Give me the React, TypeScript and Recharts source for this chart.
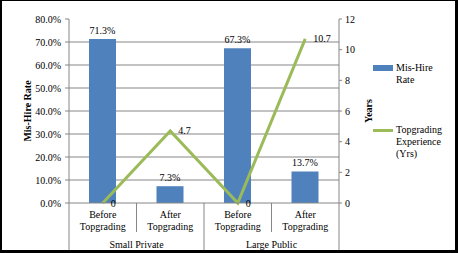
import React from 'react';
import {ComposedChart, Bar, Line, XAxis, YAxis, CartesianGrid, Legend, LabelList, Label} from 'recharts';

const categories = ['Before Topgrading', 'After Topgrading', 'Before Topgrading', 'After Topgrading'];
const groups = ['Small Private', 'Small Private', 'Large Public', 'Large Public'];
const misHireRate = [71.3, 7.3, 67.3, 13.7];
const topgradingYears = [0, 4.7, 0, 10.7];
const rateTicks = [0, 10, 20, 30, 40, 50, 60, 70, 80];
const rateGrid = [10, 20, 30, 40, 50, 60, 70];
const yearTicks = [0, 2, 4, 6, 8, 10, 12];

const data = categories.map((category, i) => ({
    category,
    group: groups[i],
    rate: misHireRate[i],
    years: topgradingYears[i],
}));

const W = 458;
const H = 253;
const TOP = 19;
const LEFT_AXIS_W = 69;
const RIGHT_AXIS_W = 119;
const BOTTOM_AXIS_H = 50;
const BAND = (W - LEFT_AXIS_W - RIGHT_AXIS_W) / categories.length;

const FONT = '"Liberation Serif", "Times New Roman", serif';
const GRID = '#868686';
const BLUE = '#4F81BD';
const GREEN = '#9BBB59';

// two-line category label plus the group row underneath, with the separator lines
function CategoryTick(props: any) {
    const {x, y, payload} = props;
    const i: number = props.index ?? payload.index;
    const left = x - BAND / 2;
    const groupStart = i === 0 || groups[i] !== groups[i - 1];
    const groupSize = groups.filter((g) => g === groups[i]).length;
    const last = i === categories.length - 1;
    const [line1, line2] = categories[i].split(' ');
    return (
        <g>
            <line x1={left} x2={left} y1={y} y2={y + (groupStart ? 47 : 29)} stroke={GRID}/>
            {last && <line x1={left + BAND} x2={left + BAND} y1={y} y2={y + 47} stroke={GRID}/>}
            <text x={x} y={y + 15} textAnchor="middle" fontSize={10} fill="#000">{line1}</text>
            <text x={x} y={y + 27} textAnchor="middle" fontSize={10} fill="#000">{line2}</text>
            {groupStart && (
                <text x={left + (BAND * groupSize) / 2} y={y + 45} textAnchor="middle" fontSize={10} fill="#000">
                    {groups[i]}
                </text>
            )}
        </g>
    );
}

function AxisTitle({viewBox, value, dx}: any) {
    const x = viewBox.x + dx;
    const y = viewBox.y + viewBox.height / 2;
    return (
        <text x={x} y={y} transform={`rotate(-90 ${x} ${y})`} textAnchor="middle"
              fontSize={10} fontWeight="bold" fill="#000">
            {value}
        </text>
    );
}

function LegendBox({payload}: any) {
    return (
        <div style={{display: 'flex', flexDirection: 'column', gap: 38, fontFamily: FONT, fontSize: 10}}>
            {(payload || []).map((entry: any) => (
                <div key={entry.value} style={{display: 'flex', alignItems: 'flex-start', lineHeight: '12px'}}>
                    <div style={{width: 20, height: 12, marginRight: 3, position: 'relative', flex: 'none'}}>
                        {entry.type === 'line' ? (
                            <div style={{position: 'absolute', left: 0, top: 5, width: 20, height: 3, background: entry.color}}/>
                        ) : (
                            <div style={{position: 'absolute', left: 0, top: 3, width: 20, height: 6, background: entry.color}}/>
                        )}
                    </div>
                    <div style={{width: 52, color: '#000'}}>{entry.value}</div>
                </div>
            ))}
        </div>
    );
}

export default function App() {
    return (
        <div style={{position: 'absolute', left: 0, top: 0, width: W, height: H, background: '#fff', fontFamily: FONT}}>
            <ComposedChart width={W} height={H} data={data}
                           margin={{top: TOP, right: 0, bottom: 0, left: 0}}
                           style={{fontFamily: FONT}}>
                <CartesianGrid vertical={false} stroke={GRID} horizontalValues={rateGrid}/>
                <XAxis dataKey="category" interval={0} height={BOTTOM_AXIS_H}
                       axisLine={{stroke: GRID}} tickLine={false} tickSize={0} tickMargin={0}
                       tick={<CategoryTick/>}/>
                <YAxis domain={[0, 80]} ticks={rateTicks} width={LEFT_AXIS_W}
                       tickFormatter={(v: number) => `${v.toFixed(1)}%`}
                       tick={{fill: '#000', fontSize: 10}} tickSize={4} tickMargin={4}
                       axisLine={{stroke: GRID}} tickLine={{stroke: GRID}}>
                    <Label content={<AxisTitle value="Mis-Hire Rate" dx={31}/>}/>
                </YAxis>
                <YAxis yAxisId="years" orientation="right" domain={[0, 12]} ticks={yearTicks} width={RIGHT_AXIS_W}
                       tick={{fill: '#000', fontSize: 10}} tickSize={3} tickMargin={3}
                       axisLine={{stroke: GRID}} tickLine={{stroke: GRID}}>
                    <Label content={<AxisTitle value="Years" dx={33}/>}/>
                </YAxis>
                <Bar dataKey="rate" name="Mis-Hire Rate" fill={BLUE} barSize={27} isAnimationActive={false}>
                    <LabelList dataKey="rate" position="top" offset={5} fontSize={10} fill="#000"
                               formatter={(v: any) => `${Number(v).toFixed(1)}%`}/>
                </Bar>
                <Line yAxisId="years" dataKey="years" name="Topgrading Experience (Yrs)" stroke={GREEN}
                      strokeWidth={3} dot={false} legendType="line" isAnimationActive={false}>
                    <LabelList dataKey="years" position="right" offset={8} fontSize={10} fill="#000"
                               formatter={(v: any) => String(v)}/>
                </Line>
                <Legend layout="vertical" align="center" verticalAlign="middle"
                        wrapperStyle={{left: 373, top: 62, width: 80}}
                        content={<LegendBox/>}/>
            </ComposedChart>
            <div style={{
                position: 'absolute', inset: 0, boxSizing: 'border-box', pointerEvents: 'none',
                borderTop: '1px solid #000', borderLeft: '2px solid #000',
                borderRight: '3px solid #000', borderBottom: '3px solid #000',
            }}/>
        </div>
    );
}
